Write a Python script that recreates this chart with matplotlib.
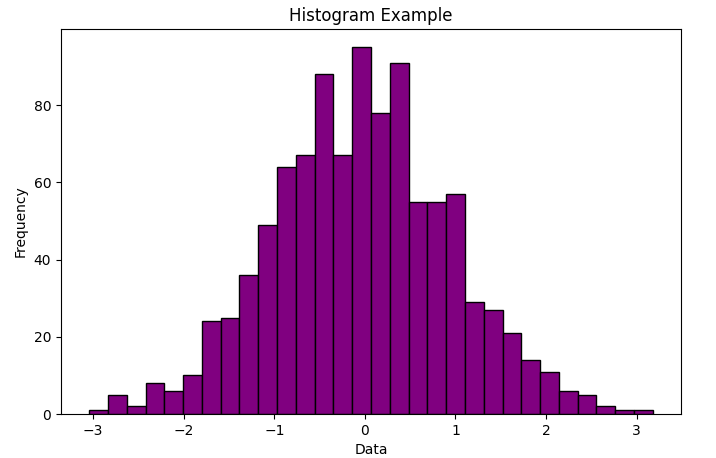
import numpy as np
import matplotlib
matplotlib.use("Agg")
import matplotlib.pyplot as plt

# bin counts (30 bins)
counts = [1, 5, 2, 8, 6, 10, 24, 25, 36, 49, 64, 67, 88, 67, 95,
          78, 91, 55, 55, 57, 29, 27, 21, 14, 11, 6, 5, 2, 1, 1]
x_min = -3.044
x_max = 3.180

edges = np.linspace(x_min, x_max, len(counts) + 1)
centers = (edges[:-1] + edges[1:]) / 2

fig = plt.figure(figsize=(7.16, 4.58), dpi=100)
ax = fig.add_axes([61 / 716, 44 / 458, 620 / 716, 385 / 458])
ax.hist(centers, bins=edges, weights=counts, color='purple', edgecolor='black')
ax.set_title('Histogram Example')
ax.set_xlabel('Data')
ax.set_ylabel('Frequency')

fig.savefig('out.png', dpi=100)
